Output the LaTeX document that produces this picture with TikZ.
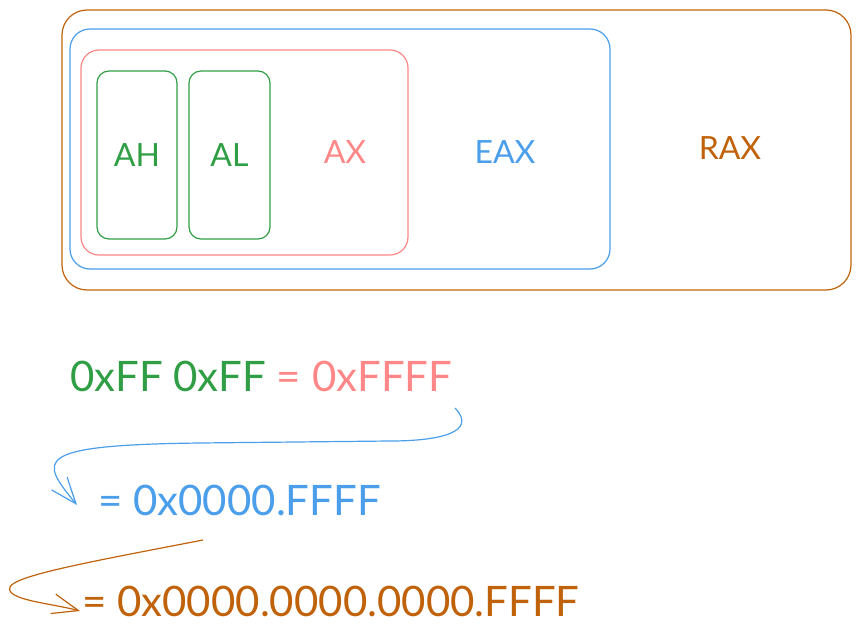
\documentclass[tikz,border=0pt]{standalone}
\usepackage{fontspec}
\setmainfont{Lato}
\usetikzlibrary{positioning,arrows.meta}
\definecolor{rax}{HTML}{C0620A}
\definecolor{eax}{HTML}{4A9EEA}
\definecolor{ax}{HTML}{FF8787}
\definecolor{half}{HTML}{2F9E44}

\begin{document}
\begin{tikzpicture}[x=1pt,y=-1pt,
  reg/.style={draw,line width=1.2pt,inner sep=0pt},
  lbl/.style={font=\fontsize{32}{32}\selectfont,inner sep=0pt},
  hex/.style={font=\fontsize{42}{42}\selectfont,inner sep=0pt,anchor=west},
  flow/.style={line width=1.2pt,-{Straight Barb[length=26pt,width=20pt]}}]
\useasboundingbox (0,0) rectangle (860,637);
% nested registers
\node[reg,draw=rax,rounded corners=25pt,minimum width=789pt,minimum height=280pt] (rax) at (456.5,150){};
\node[reg,draw=eax,rounded corners=20pt,minimum width=540pt,minimum height=240pt] (eax) at (340,149){};
\node[reg,draw=ax,rounded corners=18pt,minimum width=327pt,minimum height=205pt] (ax) at (244.5,152.5){};
\node[reg,draw=half,rounded corners=12pt,minimum width=80pt,minimum height=168pt,lbl,text=half] (ah) at (137,155){AH};
\node[reg,draw=half,rounded corners=12pt,minimum width=81pt,minimum height=168pt,lbl,text=half] (al) at (229.5,155){AL};
\node[lbl,text=ax] (axl) at (345,152){AX};
\node[lbl,text=eax] (eaxl) at (505,152){EAX};
\node[lbl,text=rax] (raxl) at (730,148){RAX};
% values
\node[hex,text=half] (l1) at (70,376){0xFF 0xFF \textcolor{ax}{= 0xFFFF}};
\node[hex,text=eax] (l2) at (98,500){= 0x0000.FFFF};
\node[hex,text=rax] (l3) at (82,601){= 0x0000.0000.0000.FFFF};
\coordinate (b1) at (455,408);
\coordinate (b2) at (77,505);
\coordinate (c1) at (203,540);
\coordinate (c2) at (80,611);
\draw[flow,eax] (b1) .. controls (478,432) and (440,441) .. (390,441) -- (200,443) .. controls (30,445) and (40,460) .. (b2);
\draw[flow,rax] (c1) .. controls (100,560) and (15,575) .. (10,587) .. controls (5,600) and (50,603) .. (c2);
\end{tikzpicture}
\end{document}
